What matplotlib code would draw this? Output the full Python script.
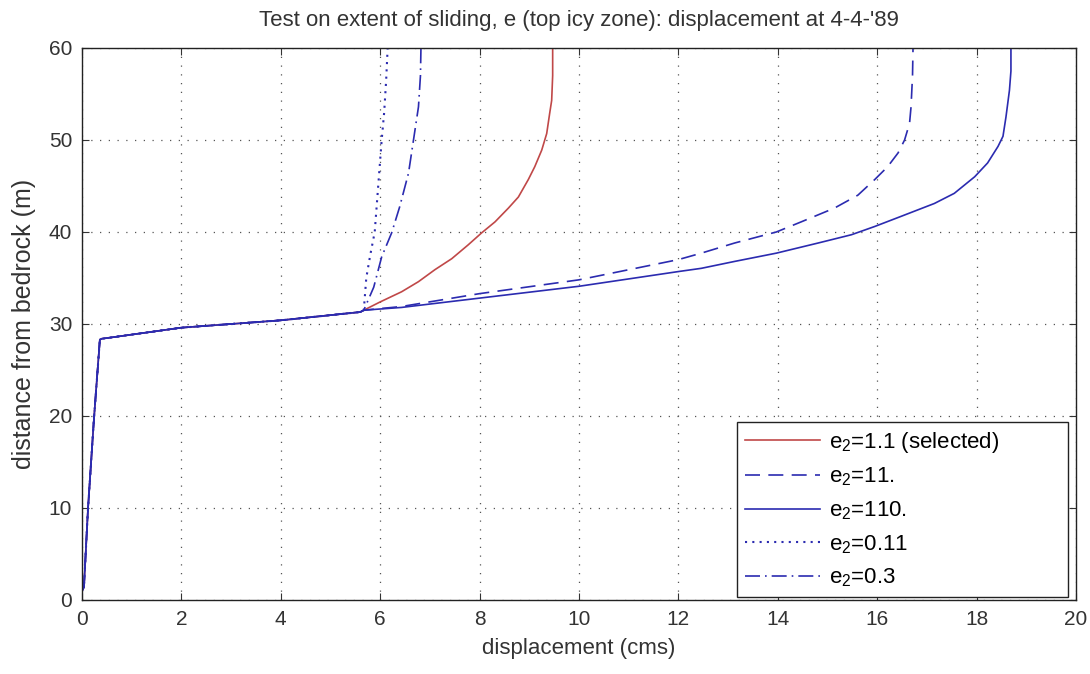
import matplotlib
matplotlib.use("Agg")
import matplotlib.pyplot as plt

plt.rcParams['font.family'] = ['Liberation Sans', 'DejaVu Sans']
plt.rcParams['mathtext.fontset'] = 'custom'
plt.rcParams['mathtext.rm'] = 'Liberation Sans'

# shared lower part (bedrock up to top icy zone)
x_base = [0.0, 0.04, 0.12, 0.24, 0.36, 0.40, 0.54, 2.0, 4.0, 5.6, 5.67]
y_base = [1.0, 1.4, 9.8, 19.6, 28.3, 28.4, 28.5, 29.6, 30.4, 31.3, 31.5]

# upper parts, one per e2 value
x_11 = [6.0, 6.43, 6.77, 7.10, 7.44, 7.77, 8.04, 8.31, 8.58, 8.78, 8.98, 9.11, 9.25,
        9.35, 9.41, 9.45, 9.47, 9.47]          # e2=1.1 (selected)
y_11 = [32.4, 33.5, 34.6, 35.9, 37.1, 38.6, 39.9, 41.1, 42.6, 43.8, 45.7, 47.1, 48.9,
        50.7, 52.9, 54.3, 57.0, 60.0]
x_e11 = [6.43, 8.0, 10.0, 12.0, 12.46, 13.13, 13.97, 14.47, 15.14, 15.61, 15.95, 16.21,
         16.42, 16.55, 16.65, 16.68, 16.71, 16.72]   # e2=11.
y_e11 = [31.9, 33.3, 34.8, 37.0, 37.7, 38.8, 40.0, 41.1, 42.6, 44.0, 45.7, 47.1,
         48.6, 50.0, 51.8, 53.6, 57.0, 60.0]
x_110 = [6.43, 7.98, 10.0, 12.0, 12.46, 13.13, 13.97, 14.81, 15.48, 15.95, 16.48, 17.15,
         17.55, 17.96, 18.22, 18.43, 18.53, 18.59, 18.66, 18.69, 18.69]   # e2=110.
y_110 = [31.8, 32.8, 34.1, 35.7, 36.05, 36.8, 37.7, 38.8, 39.7, 40.6, 41.7, 43.1,
         44.2, 46.0, 47.5, 49.3, 50.4, 52.5, 55.4, 57.5, 60.0]
x_011 = [5.72, 5.80, 5.89, 5.96, 6.03, 6.08, 6.12, 6.15]    # e2=0.11
y_011 = [35.0, 37.5, 40.0, 45.0, 50.0, 53.0, 56.5, 60.0]
x_03 = [5.87, 6.03, 6.23, 6.39, 6.57, 6.67, 6.77, 6.81, 6.82]   # e2=0.3
y_03 = [34.0, 37.3, 39.9, 42.7, 46.4, 50.0, 53.6, 57.0, 60.0]

red = '#c04848'
blue = '#2b2bb0'

fig = plt.figure(figsize=(10.9, 6.74), dpi=100)
ax = fig.add_axes([0.0752, 0.1098, 0.912, 0.819])

ax.plot(x_base + x_11, y_base + y_11, color=red, lw=1.2, label=r'e$_2$=1.1 (selected)')
ax.plot(x_base + x_e11, y_base + y_e11, color=blue, lw=1.2, ls=(0, (9, 5)), label=r'e$_2$=11.')
ax.plot(x_base + x_110, y_base + y_110, color=blue, lw=1.2, label=r'e$_2$=110.')
ax.plot(x_base + x_011, y_base + y_011, color=blue, lw=1.5, ls=(0, (1, 2.5)), label=r'e$_2$=0.11')
ax.plot(x_base + x_03, y_base + y_03, color=blue, lw=1.2, ls=(0, (9, 3, 1, 3)), label=r'e$_2$=0.3')

ax.set_xlim(0, 20)
ax.set_ylim(0, 60)
ax.set_xticks(range(0, 21, 2))
ax.set_yticks(range(0, 61, 10))
ax.grid(True, color='#555555', ls=(0, (1, 6)), lw=0.9)
ax.tick_params(direction='in', top=True, right=True, length=5, labelsize=15, colors='#333333')
ax.tick_params(axis='x', pad=7)
ax.tick_params(axis='y', pad=7)
for s in ax.spines.values():
    s.set_color('#222222')
    s.set_linewidth(1.0)

ax.set_xlabel('displacement (cms)', fontsize=16, color='#333333', labelpad=7)
ax.set_ylabel('distance from bedrock (m)', fontsize=18, color='#333333', labelpad=9)
ax.set_title("Test on extent of sliding, e (top icy zone): displacement at 4-4-'89",
             fontsize=16, color='#333333', pad=16)

leg = ax.legend(loc='lower left', bbox_to_anchor=(0.659, 0.005, 0.333, 0.3), mode='expand',
                borderaxespad=0, fontsize=16, fancybox=False, framealpha=1, edgecolor='#222222',
                handlelength=3.4, handletextpad=0.4, labelspacing=0.5, borderpad=0.35)
leg.get_frame().set_linewidth(1.0)

fig.savefig('out.png', dpi=100)
